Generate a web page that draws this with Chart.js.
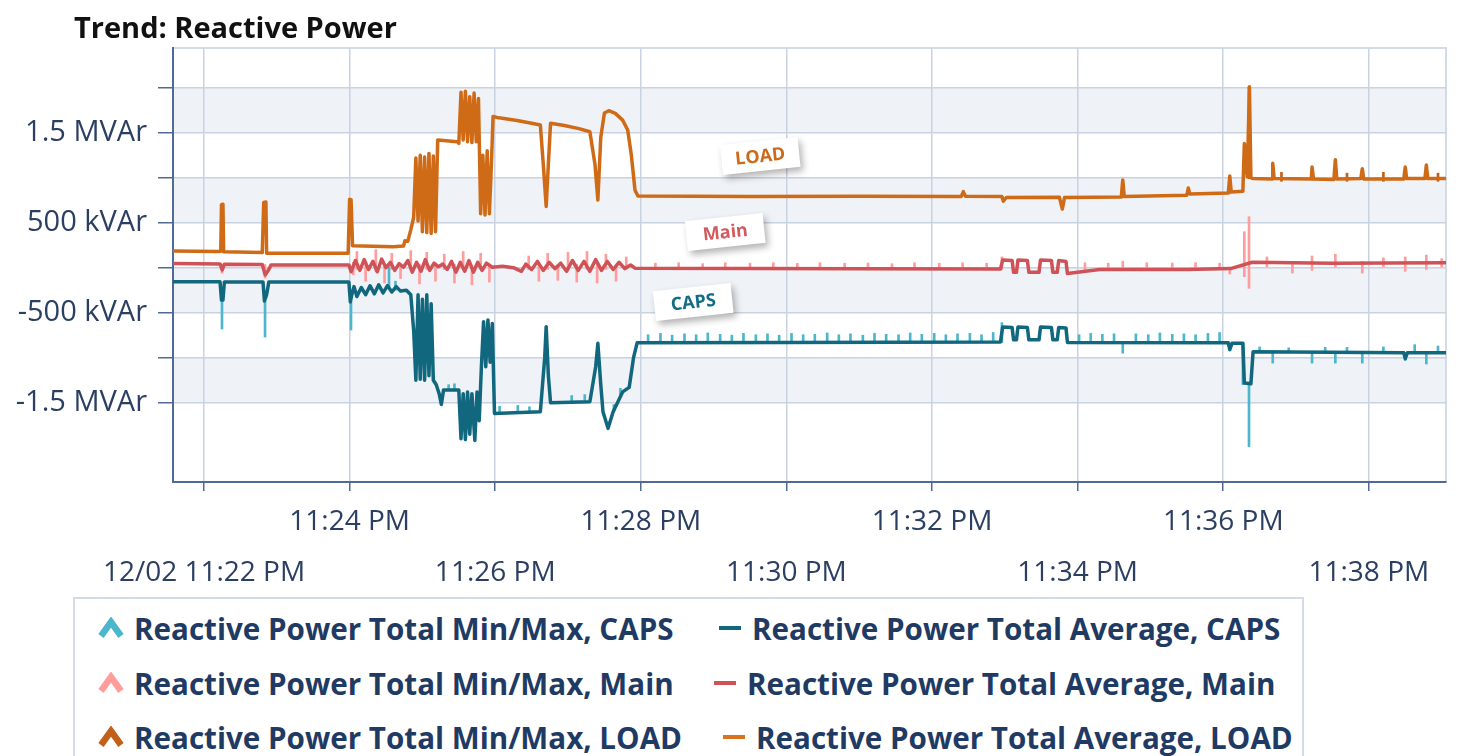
<!DOCTYPE html>
<html>
<head>
<meta charset="utf-8">
<title>Trend: Reactive Power</title>
<script src="https://cdn.jsdelivr.net/npm/chart.js@4.4.1/dist/chart.umd.min.js"></script>
<style>
html, body { margin: 0; padding: 0; background: #fff; }
#wrap { position: relative; width: 1462px; height: 756px; overflow: hidden; font-family: "Open Sans", "Noto Sans", sans-serif; }
#title { position: absolute; left: 74px; top: 12px; font-size: 29px; line-height: 1; font-weight: 700; color: #111; white-space: nowrap; }
#chart { position: absolute; left: 0; top: 0; }
#legend { position: absolute; left: 73px; top: 597px; width: 1227px; height: 200px; border: 2px solid #d3dbe7; background: #fff; }
.item { position: absolute; height: 36px; display: flex; align-items: center; font-size: 29.6px; font-weight: 700; color: #1f3a63; white-space: nowrap; }
.item svg { margin-right: 10px; }
</style>
</head>
<body>
<div id="wrap">
  <canvas id="chart" width="1462" height="756"></canvas>
  <div id="title">Trend: Reactive Power</div>
  <div id="legend"></div>
</div>
<script>
// time axis: minutes after 11:00 PM on 12/02
const xTickMinutes = [22, 24, 26, 28, 30, 32, 34, 36, 38];
const xTickLabels = ['12/02 11:22 PM', '11:24 PM', '11:26 PM', '11:28 PM', '11:30 PM', '11:32 PM', '11:34 PM', '11:36 PM', '11:38 PM'];
const yTickValues = [-1500, -1000, -500, 0, 500, 1000, 1500, 2000];
const yTickLabels = ['-1.5 MVAr', '', '-500 kVAr', '', '500 kVAr', '', '1.5 MVAr', ''];

const seriesNames = ['CAPS', 'Main', 'LOAD'];

// [minute, kVAr]
const loadAverage = [
  [21.57,186],[22.20,180],[22.23,182],[22.24,700],[22.26,705],[22.27,176],[22.80,168],[22.82,725],[22.85,730],[22.86,160],
  [23.98,160],[24.00,760],[24.02,755],[24.04,245],[24.60,232],[24.74,240],[24.76,300],[24.80,295],[24.84,420],[24.88,560],
  [24.91,1220],[24.94,520],[24.97,1250],[25.00,400],[25.03,1230],[25.06,390],[25.09,1270],[25.12,380],[25.15,1240],[25.18,400],
  [25.21,1420],[25.48,1400],[25.50,1380],[25.53,1950],[25.56,1420],[25.59,1960],[25.62,1400],[25.65,1900],[25.68,1390],[25.71,1940],
  [25.74,1400],[25.77,1880],[25.80,600],[25.83,1250],[25.86,585],[25.89,1300],[25.92,600],[25.95,1200],[25.97,1680],[26.05,1665],
  [26.30,1635],[26.50,1605],[26.62,1585],[26.66,1150],[26.70,680],[26.73,1150],[26.76,1604],[26.95,1580],[27.15,1545],[27.30,1511],
  [27.37,1150],[27.41,752],[27.45,1450],[27.50,1718],[27.56,1744],[27.65,1715],[27.75,1640],[27.82,1530],[27.87,1250],[27.92,860],
  [27.96,797],[29.50,792],[31.00,795],[32.40,790],[32.43,845],[32.46,795],[32.96,790],[32.98,740],[33.02,780],[33.75,782],
  [33.79,652],[33.82,780],[34.60,785],[34.62,975],[34.64,790],[35.50,805],[35.52,885],[35.54,820],[36.07,830],[36.09,1020],
  [36.11,840],[36.27,850],[36.29,1380],[36.33,1010],[36.36,2010],[36.38,1000],[36.41,990],[36.67,985],[36.68,1160],[36.70,990],
  [37.21,985],[37.22,1120],[37.24,985],[37.52,980],[37.54,1200],[37.56,985],[37.89,990],[37.91,1100],[37.93,985],[38.48,985],
  [38.50,1120],[38.52,990],[38.77,990],[38.79,1140],[38.81,990],[39.06,990]
];

const mainAverage = [
  [21.57,48],[22.22,42],[22.25,-25],[22.28,38],[22.80,35],[22.84,-80],[22.88,-35],[22.92,30],[23.99,30],[24.02,-45],
  [24.08,80],[24.14,-30],[24.20,90],[24.26,-20],[24.32,70],[24.38,-45],[24.44,95],[24.50,0],[24.56,60],[24.62,-30],
  [24.68,45],[24.74,5],[24.80,80],[24.86,-50],[24.92,60],[24.98,-40],[25.04,90],[25.10,-30],[25.16,50],[25.22,10],
  [25.28,40],[25.34,-20],[25.40,70],[25.46,-50],[25.52,60],[25.58,-40],[25.64,80],[25.70,-50],[25.76,60],[25.82,-30],
  [25.88,50],[25.96,5],[26.10,15],[26.25,0],[26.36,-40],[26.42,40],[26.50,-20],[26.58,70],[26.66,-30],[26.74,60],
  [26.82,-10],[26.90,50],[26.98,-40],[27.06,80],[27.14,-30],[27.22,70],[27.30,-40],[27.38,90],[27.46,-30],[27.54,70],
  [27.62,-20],[27.70,60],[27.78,-10],[27.86,30],[27.92,-5],[29.50,-8],[31.00,-12],[32.94,-15],[32.97,85],[33.10,80],
  [33.12,-50],[33.16,-50],[33.18,85],[33.31,80],[33.33,-50],[33.47,-50],[33.49,85],[33.64,80],[33.66,-50],[33.72,-50],
  [33.74,80],[33.84,70],[33.86,-65],[34.30,-20],[35.50,-20],[36.10,-10],[36.40,60],[37.50,50],[39.06,55]
];

const capsAverage = [
  [21.57,-155],[22.22,-155],[22.24,-360],[22.26,-360],[22.28,-158],[22.81,-158],[22.83,-370],[22.86,-300],[22.89,-160],[23.99,-160],
  [24.01,-380],[24.03,-300],[24.06,-210],[24.10,-320],[24.16,-220],[24.22,-300],[24.28,-200],[24.34,-290],[24.40,-190],[24.46,-280],
  [24.52,-200],[24.58,-270],[24.64,-210],[24.70,-260],[24.78,-250],[24.84,-300],[24.88,-700],[24.91,-1250],[24.94,-300],[24.97,-1240],
  [25.00,-350],[25.03,-1250],[25.06,-300],[25.09,-1200],[25.12,-400],[25.15,-1250],[25.19,-1300],[25.23,-1400],[25.26,-1520],[25.29,-1360],
  [25.50,-1360],[25.53,-1900],[25.56,-1400],[25.59,-1910],[25.62,-1380],[25.65,-1850],[25.68,-1400],[25.72,-1920],[25.75,-1380],[25.78,-1700],
  [25.81,-1100],[25.84,-600],[25.87,-1100],[25.90,-580],[25.93,-1050],[25.96,-620],[25.99,-1620],[26.62,-1600],[26.68,-1000],[26.70,-655],
  [26.73,-1200],[26.76,-1500],[27.30,-1490],[27.38,-1100],[27.41,-840],[27.45,-1300],[27.48,-1600],[27.55,-1785],[27.62,-1600],[27.75,-1380],
  [27.84,-1330],[27.90,-1000],[27.95,-833],[30.00,-830],[32.94,-825],[32.97,-660],[33.10,-665],[33.12,-800],[33.16,-800],[33.18,-660],
  [33.31,-665],[33.33,-800],[33.47,-800],[33.49,-660],[33.64,-665],[33.66,-800],[33.72,-800],[33.74,-665],[33.84,-670],[33.86,-830],
  [36.07,-835],[36.09,-910],[36.12,-840],[36.27,-840],[36.29,-1280],[36.38,-1290],[36.41,-935],[38.48,-945],[38.50,-1010],[38.53,-945],
  [39.06,-945]
];

// [minute, min kVAr, max kVAr]
const capsMinMax = [
  [22.247,-681,-360],[22.838,-770,-370],[24.019,-692,-380],[24.541,-210,11],[24.63,-250,-150],[25.36,-1360,-1300],[25.44,-1360,-1290],
  [26.06,-1615,-1540],[26.31,-1610,-1530],[26.47,-1605,-1545],[27.05,-1490,-1420],[27.23,-1490,-1410],[27.63,-1600,-1520],[27.72,-1420,-1340],
  [28.10,-830,-745],[28.27,-830,-730],[28.43,-830,-750],[28.60,-830,-735],[28.76,-830,-745],[28.92,-830,-725],[29.09,-830,-740],
  [29.25,-830,-750],[29.41,-830,-730],[29.58,-830,-745],[29.74,-830,-735],[29.90,-830,-750],[30.07,-830,-730],[30.23,-830,-745],
  [30.39,-830,-740],[30.56,-830,-725],[30.72,-830,-745],[30.88,-830,-735],[31.05,-830,-750],[31.21,-830,-730],[31.37,-830,-740],
  [31.54,-830,-745],[31.70,-830,-725],[31.86,-830,-740],[32.03,-830,-730],[32.19,-830,-745],[32.35,-830,-735],[32.52,-830,-730],
  [32.68,-830,-745],[32.84,-830,-720],[32.96,-830,-610],[34.02,-830,-745],[34.18,-830,-730],[34.34,-830,-740],[34.50,-830,-735],
  [34.62,-950,-825],[34.80,-830,-735],[34.97,-830,-745],[35.13,-830,-725],[35.30,-830,-740],[35.46,-830,-735],[35.62,-830,-745],
  [35.79,-830,-730],[35.95,-830,-720],[36.27,-1300,-830],[36.354,-1989,-1280],[36.50,-945,-880],[36.68,-1060,-945],[36.90,-945,-890],
  [37.22,-1060,-945],[37.40,-945,-885],[37.54,-1060,-945],[37.70,-945,-885],[37.91,-1060,-945],[38.20,-945,-880],[38.50,-1030,-945],
  [38.63,-945,-855],[38.79,-1070,-945],[38.95,-945,-870]
];

const mainMinMax = [
  [22.247,-60,40],[22.838,-115,35],[24.05,-80,60],[24.10,-20,180],[24.22,-150,60],[24.36,-40,200],[24.48,-170,20],[24.58,-20,160],
  [24.70,-120,40],[24.84,-20,190],[24.96,-180,40],[25.06,-20,170],[25.18,-150,40],[25.30,-20,150],[25.44,-170,40],[25.56,-20,180],
  [25.68,-190,30],[25.80,-20,160],[25.92,-160,30],[26.46,-20,130],[26.60,-150,40],[26.72,-20,160],[26.86,-140,30],[27.00,-20,170],
  [27.12,-160,40],[27.26,-20,180],[27.40,-170,40],[27.52,-20,150],[27.66,-150,30],[27.80,-20,120],[28.20,-12,50],[28.52,-12,55],
  [28.85,-12,45],[29.16,-12,55],[29.50,-12,50],[29.82,-12,55],[30.15,-12,48],[30.46,-12,55],[30.80,-12,50],[31.12,-12,52],
  [31.45,-12,45],[31.76,-12,55],[32.10,-12,50],[32.42,-12,55],[32.75,-12,50],[32.96,-20,120],[34.10,-20,55],[34.42,-20,50],
  [34.62,-20,70],[34.95,-20,55],[35.30,-20,52],[35.62,-20,56],[35.95,-20,50],[36.09,-70,0],[36.29,-100,400],[36.354,-229,567],
  [36.60,0,120],[36.95,-60,60],[37.22,-30,130],[37.54,0,150],[37.91,-60,70],[38.20,10,110],[38.50,-40,120],[38.79,-20,140],[39.00,10,100]
];

const loadMinMax = [
  [36.354,990,2010],[36.80,960,1060],[37.70,960,1050],[38.20,960,1060],[38.95,960,1050]
];

// callout labels: [minute, kVAr] of the box centre
const calloutLabels = ['LOAD', 'Main', 'CAPS'];
const calloutAt = [[29.64, 1241], [29.16, 397], [28.72, -381]];

const avgColors = { CAPS: '#11687e', Main: '#cf5257', LOAD: '#cf6b17' };
const rangeColors = { CAPS: '#4cb6cc', Main: '#ff9d9d', LOAD: '#c0601a' };
const calloutColors = ['#cc6a1a', '#d05a5e', '#136d82'];
const fontFamily = '"Open Sans", "Noto Sans", sans-serif';
const axisBlue = '#4f6a95';

function toPoints(rows) { return rows.map(r => ({ x: r[0], y: r[1] })); }
function toBars(rows) { return rows.map(r => ({ x: r[0], y: [r[1], r[2]] })); }

const averages = { CAPS: capsAverage, Main: mainAverage, LOAD: loadAverage };
const ranges = { CAPS: capsMinMax, Main: mainMinMax, LOAD: loadMinMax };

const datasets = [];
seriesNames.forEach(name => {
    datasets.push({
        type: 'bar',
        label: 'Reactive Power Total Min/Max, ' + name,
        data: toBars(ranges[name]),
        backgroundColor: rangeColors[name],
        barThickness: 2,
        grouped: false,
        order: 2
    });
    datasets.push({
        type: 'line',
        label: 'Reactive Power Total Average, ' + name,
        data: toPoints(averages[name]),
        borderColor: avgColors[name],
        borderWidth: 3.5,
        borderJoinStyle: 'round',
        pointRadius: 0,
        tension: 0,
        order: 1
    });
});

// alternating bands and the light frame of the plot
const bandsPlugin = {
    id: 'bands',
    beforeDraw(chart) {
        const { ctx, chartArea: a, scales: { y } } = chart;
        ctx.save();
        ctx.fillStyle = '#eff2f7';
        for (let i = 0; i + 1 < yTickValues.length; i += 2) {
            const top = y.getPixelForValue(yTickValues[i + 1]);
            const bottom = y.getPixelForValue(yTickValues[i]);
            ctx.fillRect(a.left, top, a.right - a.left, bottom - top);
        }
        ctx.strokeStyle = '#d3dbe7';
        ctx.lineWidth = 2;
        ctx.beginPath();
        ctx.moveTo(a.left, a.top);
        ctx.lineTo(a.right, a.top);
        ctx.lineTo(a.right, a.bottom);
        ctx.stroke();
        ctx.restore();
    }
};

const calloutPlugin = {
    id: 'callouts',
    afterDatasetsDraw(chart) {
        const { ctx, scales: { x, y } } = chart;
        calloutLabels.forEach((text, i) => {
            ctx.save();
            ctx.translate(x.getPixelForValue(calloutAt[i][0]), y.getPixelForValue(calloutAt[i][1]));
            ctx.rotate(-6 * Math.PI / 180);
            ctx.shadowColor = 'rgba(0,0,0,0.3)';
            ctx.shadowBlur = 7;
            ctx.shadowOffsetX = 3;
            ctx.shadowOffsetY = 4;
            ctx.fillStyle = '#fff';
            ctx.fillRect(-39, -15, 78, 30);
            ctx.shadowColor = 'transparent';
            ctx.font = 'bold 18px ' + fontFamily;
            ctx.fillStyle = calloutColors[i];
            ctx.textAlign = 'center';
            ctx.textBaseline = 'middle';
            ctx.fillText(text, 0, 1);
            ctx.restore();
        });
    }
};

new Chart(document.getElementById('chart').getContext('2d'), {
    type: 'line',
    data: { datasets: datasets },
    options: {
        responsive: false,
        animation: false,
        layout: { padding: { top: 48, right: 16, left: 0, bottom: 0 } },
        plugins: { legend: { display: false }, tooltip: { enabled: false } },
        scales: {
            x: {
                type: 'linear',
                min: 21.574,
                max: 39.06,
                offset: false,
                afterBuildTicks: s => { s.ticks = xTickMinutes.map(v => ({ value: v })); },
                afterFit: s => { s.height = 274; },
                border: { color: axisBlue, width: 2 },
                grid: { color: '#c9d2e1', lineWidth: 1.5, tickColor: axisBlue, tickLength: 9, offset: false },
                ticks: {
                    autoSkip: false,
                    maxRotation: 0,
                    padding: 6,
                    color: '#2b3f62',
                    font: { family: fontFamily, size: 28, lineHeight: 51 / 28 },
                    callback: (v, i) => i % 2 === 0 ? ['', xTickLabels[i]] : [xTickLabels[i], '']
                }
            },
            y: {
                min: -2381,
                max: 2441,
                afterBuildTicks: s => { s.ticks = yTickValues.map(v => ({ value: v })); },
                afterFit: s => { s.width = 173; },
                border: { color: axisBlue, width: 2 },
                grid: { color: '#c9d2e1', lineWidth: 1.5, tickColor: axisBlue, tickLength: 15 },
                ticks: {
                    padding: 11,
                    color: '#2b3f62',
                    font: { family: fontFamily, size: 29 },
                    callback: (v, i) => yTickLabels[i]
                }
            }
        }
    },
    plugins: [bandsPlugin, calloutPlugin]
});

// legend, two columns: min/max then average
const legendBox = document.getElementById('legend');
const rowTops = [11, 66, 120];
const avgLeft = [643, 638, 647];
function chevron(color) {
    return '<svg width="26" height="22" viewBox="0 0 26 22"><polyline points="3,19 13,5 23,19" fill="none" stroke="' +
        color + '" stroke-width="6.5"/></svg>';
}
function dash(color) {
    return '<svg width="24" height="22" viewBox="0 0 24 22"><line x1="1" y1="11" x2="23" y2="11" stroke="' +
        color + '" stroke-width="4"/></svg>';
}
seriesNames.forEach((name, r) => {
    const a = document.createElement('div');
    a.className = 'item';
    a.style.left = '23px';
    a.style.top = rowTops[r] + 'px';
    a.innerHTML = chevron(rangeColors[name]) + '<span>Reactive Power Total Min/Max, ' + name + '</span>';
    legendBox.appendChild(a);
    const b = document.createElement('div');
    b.className = 'item';
    b.style.left = avgLeft[r] + 'px';
    b.style.top = rowTops[r] + 'px';
    b.innerHTML = dash(r === 2 ? '#d9731f' : avgColors[name]) + '<span>Reactive Power Total Average, ' + name + '</span>';
    legendBox.appendChild(b);
});
</script>
</body>
</html>
